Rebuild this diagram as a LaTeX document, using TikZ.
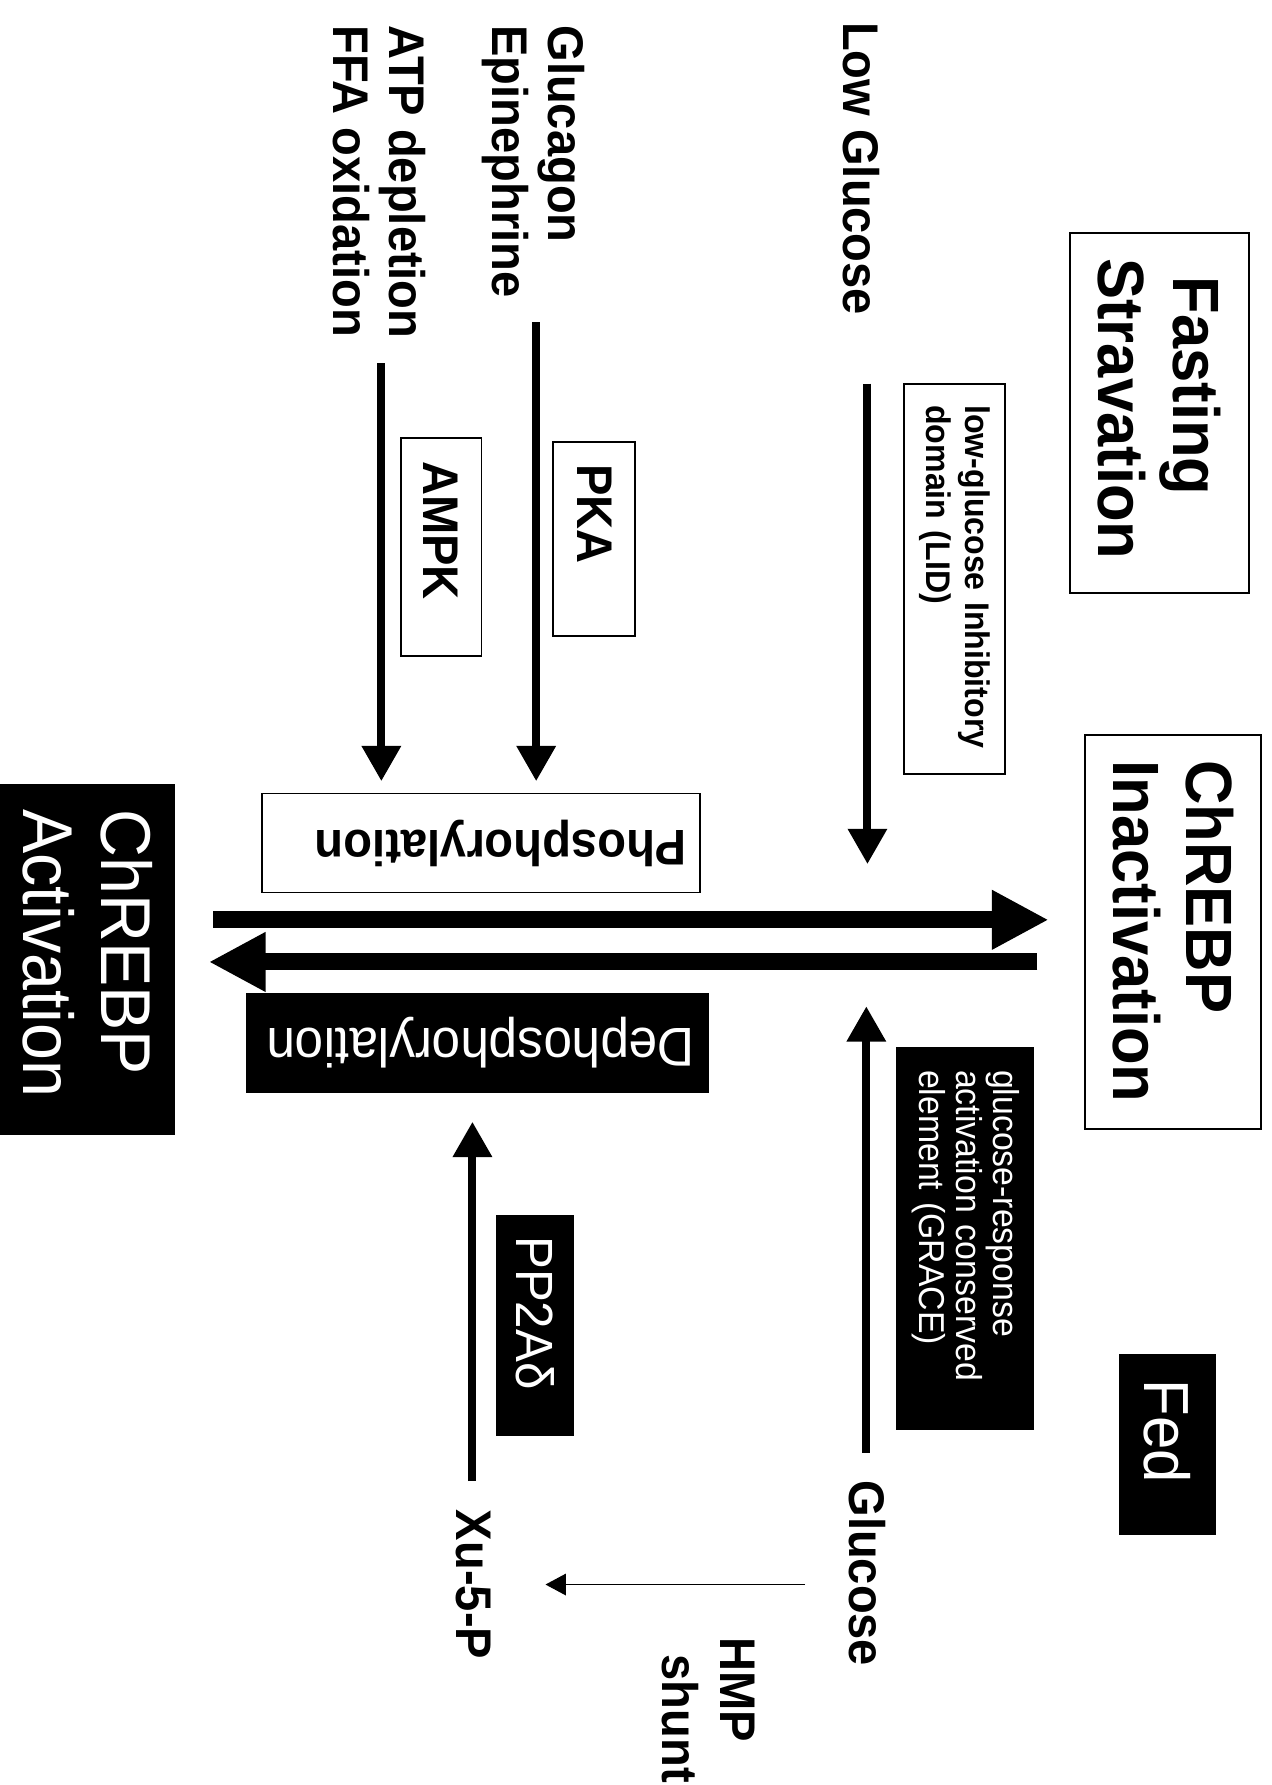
\documentclass[tikz,border=0pt]{standalone}
\usepackage{fontspec}
\setmainfont{Liberation Sans}[FakeStretch=0.94]
\usetikzlibrary{arrows.meta}
\tikzstyle{wbox}=[rectangle, draw=black, line width=0.8pt, fill=white, inner sep=0pt]
\tikzstyle{bbox}=[rectangle, fill=black, text=white, inner sep=0pt]
\tikzstyle{vert}=[rotate=-90]
\tikzstyle{flip}=[rotate=180]
\tikzstyle{lbl}=[rotate=-90, inner sep=0pt, font=\bfseries\fontsize{22pt}{24.5pt}\selectfont]
\tikzstyle{medarr}=[line width=3.5pt, -{Triangle[length=15.5pt, width=16.5pt]}]
\tikzstyle{bigarr}=[line width=7.5pt, -{Triangle[length=25pt, width=24.5pt]}]
\tikzstyle{thinarr}=[line width=0.6pt, -{Triangle[length=9pt, width=9.5pt]}]
\begin{document}
\begin{tikzpicture}[x=0.5pt, y=-0.5pt]
\useasboundingbox (0,0) rectangle (1117,1568);
\fill[white] (0,0) rectangle (1117,1568);

% states
\node (FAST) [wbox, vert, minimum width=158pt, minimum height=78.5pt, text width=136pt, align=left,
  font=\bfseries\fontsize{28.75pt}{33pt}\selectfont] at (1018.5,363) {\hspace*{8pt}Fasting\\Stravation};
\node (INACT) [wbox, vert, minimum width=173pt, minimum height=77.5pt, text width=151pt, align=left,
  font=\bfseries\fontsize{28.75pt}{32pt}\selectfont] at (1030.5,819) {ChREBP\\Inactivation};
\node (FED) [bbox, vert, minimum width=79.5pt, minimum height=42.5pt, text width=56.5pt, align=left,
  font=\fontsize{28pt}{32pt}\selectfont] at (1025.5,1268.5) {Fed};
\node (ACT) [bbox, vert, minimum width=154pt, minimum height=77pt, text width=132pt, align=left,
  font=\fontsize{31pt}{34.5pt}\selectfont] at (77,843) {ChREBP\\Activation};

% domains
\node (LID) [wbox, vert, minimum width=171.5pt, minimum height=44.5pt, text width=152.5pt, align=left,
  font=\bfseries\fontsize{15pt}{17pt}\selectfont] at (838.5,508.5) {low-glucose Inhibitory\\domain (LID)};
\node (GRACE) [bbox, vert, minimum width=168pt, minimum height=60.5pt, text width=148pt, align=left,
  font=\fontsize{15.8pt}{16.25pt}\selectfont] at (848,1088) {glucose-response\\activation conserved\\element (GRACE)};

% kinases and phosphatase
\node (PKA) [wbox, vert, minimum width=85.5pt, minimum height=36pt, text width=65.5pt, align=left,
  font=\bfseries\fontsize{22pt}{24.5pt}\selectfont] at (522,473.5) {PKA};
\node (AMPK) [wbox, vert, minimum width=95.5pt, minimum height=35.5pt, text width=75.5pt, align=left,
  font=\bfseries\fontsize{22pt}{24.5pt}\selectfont] at (387.5,480.5) {AMPK};
\node (PP2A) [bbox, vert, minimum width=97pt, minimum height=34pt, text width=78pt, align=left,
  font=\fontsize{23pt}{26pt}\selectfont] at (470,1164) {PP2Aδ};

\node (PHOS) [wbox, flip, minimum width=192.5pt, minimum height=43.5pt, text width=180.5pt, align=left,
  font=\bfseries\fontsize{22pt}{24.5pt}\selectfont] at (422.5,740.5) {Phosphorylation};
\node (DEPHOS) [bbox, flip, minimum width=203.5pt, minimum height=44pt, text width=191pt, align=left,
  font=\fontsize{24pt}{27pt}\selectfont] at (419.5,916) {Dephosphorylation};

% signals
\node (LOWGLC) [lbl, anchor=base west] at (741,19) {Low Glucose};
\node (HORM) [lbl, anchor=north west, align=left] at (514,22) {Glucagon\\Epinephrine};
\node (ENERGY) [lbl, anchor=north west, align=left] at (374,22) {ATP depletion\\FFA oxidation};
\node (GLC) [lbl, anchor=base west] at (746,1300) {Glucose};
\node (XU5P) [lbl, anchor=base west] at (401,1326) {Xu-5-P};
\node (HMP) [lbl, anchor=north west, align=left,
  font=\bfseries\fontsize{22pt}{25.5pt}\selectfont] at (664,1438) {HMP\\\hspace*{7.5pt}shunt};

% main switch
\coordinate (UPY) at (0,808);
\coordinate (LOY) at (0,845);
\draw[bigarr, shorten <=16.5pt, shorten >=15.5pt] (ACT.north |- UPY) -- (INACT.south |- UPY);
\draw[bigarr, shorten <=20.5pt, shorten >=14.5pt] (INACT.south |- LOY) -- (ACT.north |- LOY);

% inputs
\coordinate (LGA) at (762,337);
\coordinate (LGB) at (762,759);
\draw[medarr] (LGA) -- (LGB);
\coordinate (PKAA) at (471,283);
\draw[medarr, shorten >=5pt] (PKAA) -- (PKAA |- PHOS.south);
\coordinate (AMPKA) at (335,319);
\draw[medarr, shorten >=5pt] (AMPKA) -- (AMPKA |- PHOS.south);
\coordinate (GLCA) at (761,1276);
\coordinate (GLCB) at (761,884);
\draw[medarr] (GLCA) -- (GLCB);
\coordinate (XUA) at (415,1301);
\draw[medarr, shorten >=12.5pt] (XUA) -- (XUA |- DEPHOS.north);
\draw[thinarr, shorten <=19pt, shorten >=23.75pt] (GLC.south |- XU5P.north) -- (XU5P.north);

\end{tikzpicture}
\end{document}
